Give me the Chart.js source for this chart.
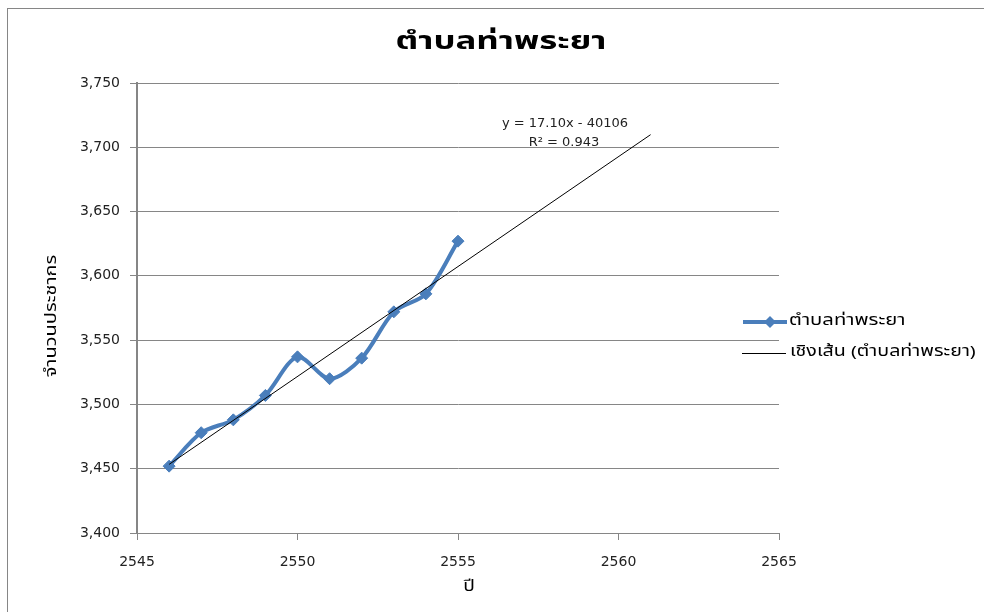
<!DOCTYPE html>
<html>
<head>
<meta charset="utf-8">
<script src="https://cdn.jsdelivr.net/npm/chart.js@4.4.0/dist/chart.umd.min.js"></script>
<style>
  html, body { margin: 0; padding: 0; background: #fff; }
  #wrap { position: relative; width: 984px; height: 612px; overflow: hidden; }
  #frame { position: absolute; left: 7px; top: 8px; width: 1200px; height: 800px;
           border-top: 1px solid #868686; border-left: 1px solid #868686; }
  canvas { position: absolute; left: 0; top: 0; }
</style>
</head>
<body>
<div id="wrap">
  <div id="frame"></div>
  <canvas id="chart" width="984" height="612"></canvas>
</div>
<script>
// data
var years = [2546, 2547, 2548, 2549, 2550, 2551, 2552, 2553, 2554, 2555];
var population = [3452, 3478, 3488, 3507, 3537, 3520, 3536, 3572, 3586, 3627];
var chartTitle = 'ตำบลท่าพระยา';
var seriesName = 'ตำบลท่าพระยา';
var trendName = 'เชิงเส้น (ตำบลท่าพระยา)';
var xTitle = 'ปี';
var yTitle = 'จำนวนประชากร';
var trendForward = 6;
var trendText = ['y = 17.10x - 40106', 'R² = 0.943'];

var xMin = 2545, xMax = 2565, xStep = 5;
var yMin = 3400, yMax = 3750, yStep = 50;

var thaiFont = '"Noto Sans Thai", Tahoma, Loma, Garuda, "DejaVu Sans", sans-serif';
var tickFont = '"DejaVu Sans", sans-serif';
var blue = '#4A7EBB';
var grey = '#868686';

// least squares line, like excel's linear trendline
function linearFit(xs, ys) {
    var n = xs.length, sx = 0, sy = 0, sxy = 0, sxx = 0;
    for (var i = 0; i < n; i++) {
        sx += xs[i]; sy += ys[i];
        sxy += xs[i] * ys[i]; sxx += xs[i] * xs[i];
    }
    var slope = (n * sxy - sx * sy) / (n * sxx - sx * sx);
    return { slope: slope, intercept: (sy - slope * sx) / n };
}

var fit = linearFit(years, population);
var trendStart = years[0];
var trendEnd = years[years.length - 1] + trendForward;

var seriesPoints = years.map(function (x, i) { return { x: x, y: population[i] }; });
var trendPoints = [trendStart, trendEnd].map(function (x) {
    return { x: x, y: fit.intercept + fit.slope * x };
});

// thai text in the old excel font runs wide, so stretch it sideways
function wideText(ctx, text, x, y, stretch, align, angle) {
    ctx.save();
    ctx.translate(x, y);
    if (angle) ctx.rotate(angle);
    ctx.scale(stretch, 1);
    ctx.textAlign = align;
    ctx.textBaseline = 'middle';
    ctx.fillText(text, 0, 0);
    ctx.restore();
}

// titles, legend and trendline label, drawn by hand to keep excel's look
var extras = {
    id: 'extras',
    afterDraw: function (chart) {
        var ctx = chart.ctx;
        ctx.save();
        ctx.fillStyle = '#000';

        ctx.font = 'bold 24px ' + thaiFont;
        wideText(ctx, chartTitle, 501, 44, 1.45, 'center');

        ctx.font = '16px ' + thaiFont;
        wideText(ctx, yTitle, 53, 316, 1.25, 'center', -Math.PI / 2);
        wideText(ctx, xTitle, 469, 588, 1.2, 'center');

        // trendline equation
        ctx.font = '13px ' + tickFont;
        ctx.fillStyle = '#222';
        ctx.textAlign = 'center';
        ctx.textBaseline = 'middle';
        ctx.fillText(trendText[0], 565, 124);
        ctx.fillText(trendText[1], 564, 143);

        // legend
        ctx.font = '15px ' + thaiFont;
        ctx.strokeStyle = blue;
        ctx.lineWidth = 4;
        ctx.beginPath();
        ctx.moveTo(743, 322); ctx.lineTo(787, 322);
        ctx.stroke();
        ctx.fillStyle = blue;
        ctx.beginPath();
        ctx.moveTo(770, 316); ctx.lineTo(776, 322); ctx.lineTo(770, 328); ctx.lineTo(764, 322);
        ctx.closePath();
        ctx.fill();
        ctx.fillStyle = '#000';
        wideText(ctx, seriesName, 789, 322, 1.35, 'left');

        ctx.strokeStyle = '#000';
        ctx.lineWidth = 1;
        ctx.beginPath();
        ctx.moveTo(742, 353.5); ctx.lineTo(786, 353.5);
        ctx.stroke();
        wideText(ctx, trendName, 790, 353, 1.31, 'left');

        ctx.restore();
    }
};

var ctx = document.getElementById('chart');
var chart = new Chart(ctx, {
    type: 'scatter',
    data: {
        datasets: [{
            label: seriesName,
            data: seriesPoints,
            showLine: true,
            borderColor: blue,
            backgroundColor: blue,
            borderWidth: 4,
            tension: 0.3,
            pointStyle: 'rectRot',
            pointRadius: 6,
            pointBorderWidth: 1,
            order: 1
        }, {
            label: trendName,
            data: trendPoints,
            showLine: true,
            borderColor: '#000',
            borderWidth: 1,
            pointRadius: 0,
            order: 0
        }]
    },
    options: {
        responsive: false,
        animation: false,
        layout: { padding: { left: 0, right: 205, top: 83, bottom: 0 } },
        plugins: {
            legend: { display: false },
            tooltip: { enabled: false },
            title: { display: false }
        },
        scales: {
            x: {
                type: 'linear',
                min: xMin,
                max: xMax,
                afterFit: function (s) { s.height = 79; },
                ticks: {
                    stepSize: xStep,
                    color: '#222',
                    padding: 14,
                    font: { family: tickFont, size: 14 },
                    callback: function (v) { return String(v); }
                },
                grid: { drawOnChartArea: false, color: grey, tickLength: 7 },
                border: { color: grey, width: 1 }
            },
            y: {
                min: yMin,
                max: yMax,
                afterFit: function (s) { s.width = 137; },
                ticks: {
                    stepSize: yStep,
                    color: '#222',
                    padding: 10,
                    font: { family: tickFont, size: 14 },
                    callback: function (v) { return v.toLocaleString('en-US'); }
                },
                grid: { color: grey, tickLength: 7 },
                border: { color: grey, width: 2 }
            }
        }
    },
    plugins: [extras]
});
</script>
</body>
</html>
